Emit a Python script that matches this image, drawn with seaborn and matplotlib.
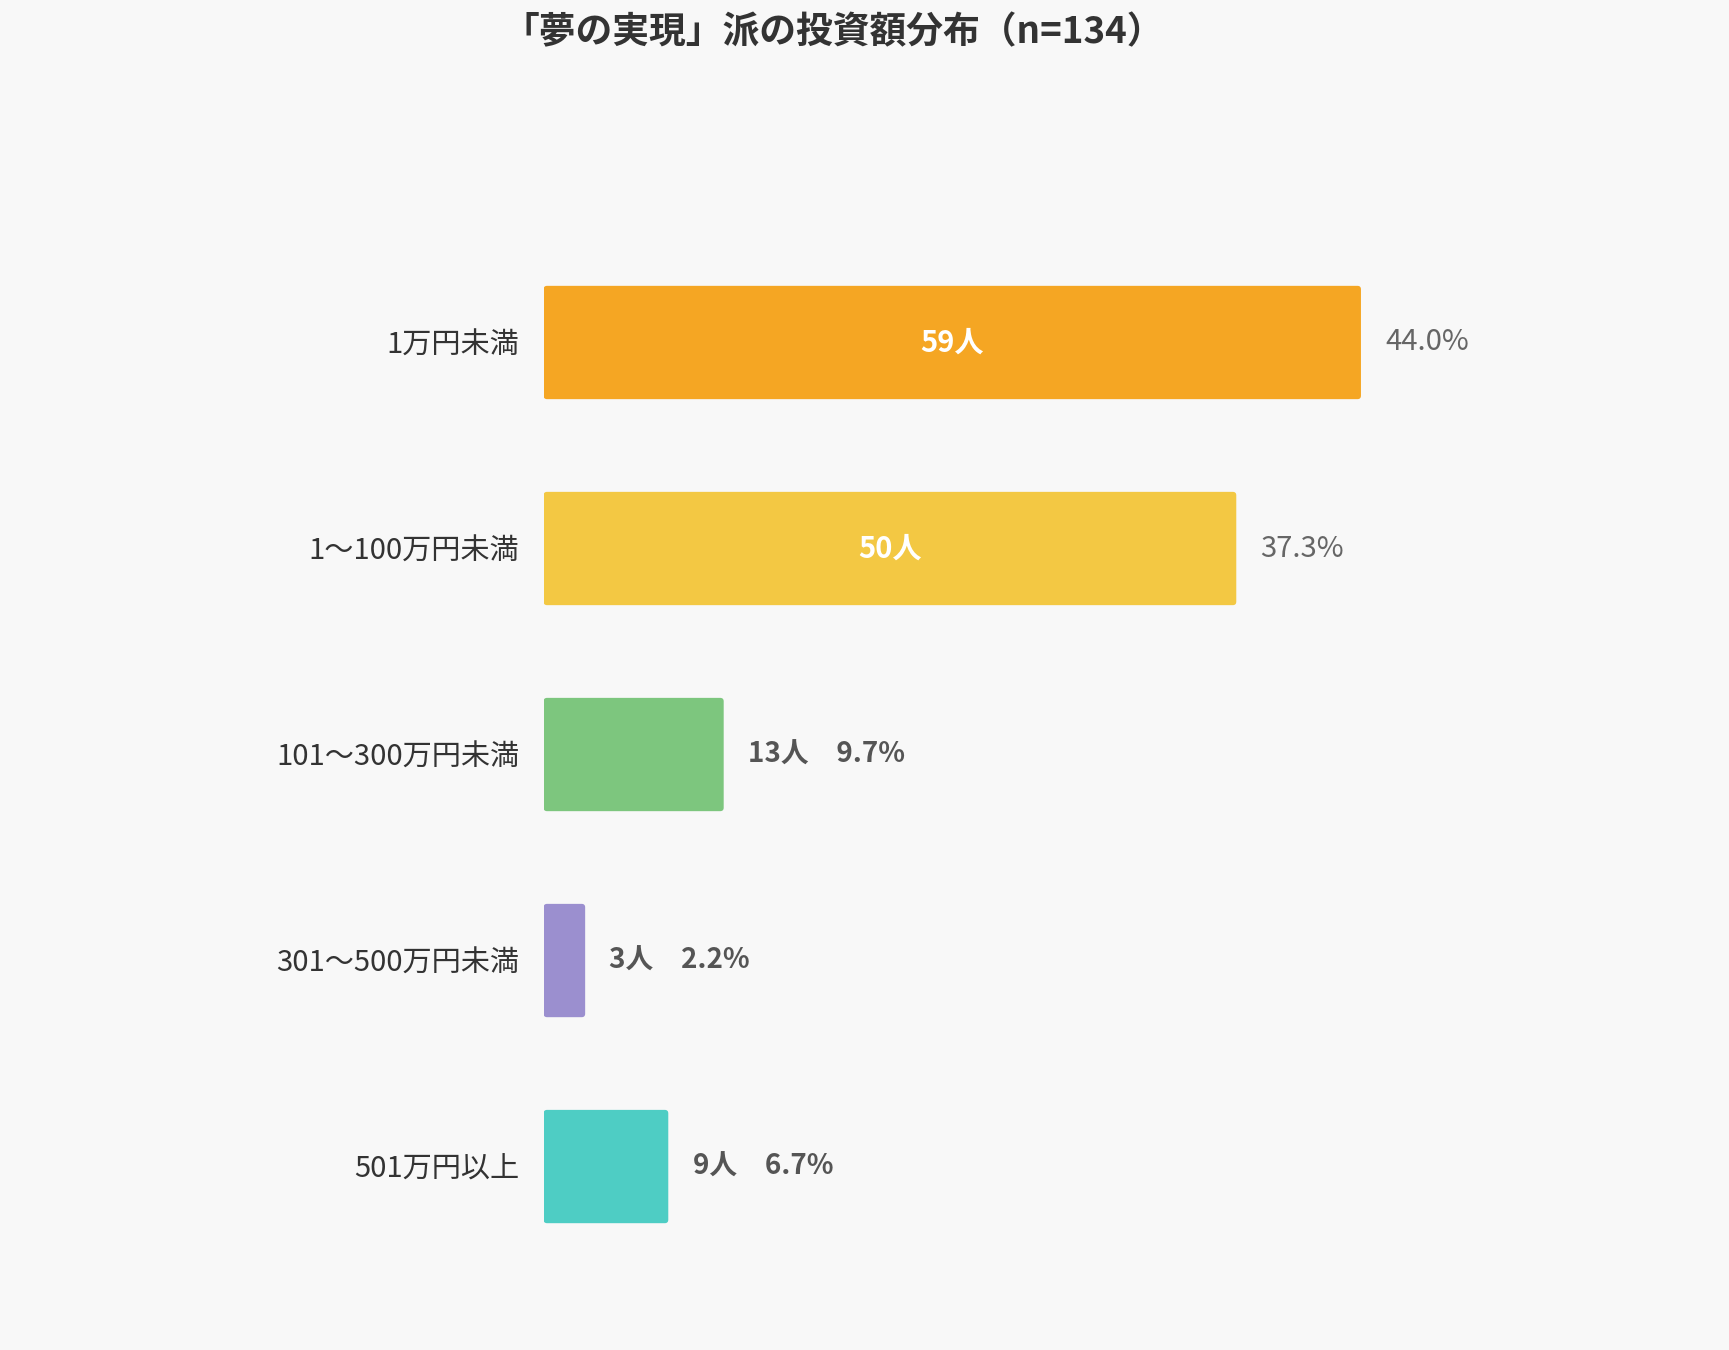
import matplotlib
matplotlib.use("Agg")
import matplotlib.pyplot as plt
from matplotlib.patches import FancyBboxPatch
import seaborn as sns
import pandas as pd

# -------------------------------
# Data
# -------------------------------
categories = ["1万円未満", "1〜100万円未満", "101〜300万円未満", "301〜500万円未満", "501万円以上"]
counts = [59, 50, 13, 3, 9]
percents = [44.0, 37.3, 9.7, 2.2, 6.7]
colors = ["#F5A623", "#F3C843", "#7DC67E", "#9B8FCF", "#4ECDC4"]
title = "「夢の実現」派の投資額分布（n=134）"

df = pd.DataFrame({"category": categories, "count": counts, "pct": percents})

# -------------------------------
# Style
# -------------------------------
sns.set_theme(style="white")
plt.rcParams["font.family"] = ["Noto Sans CJK JP", "DejaVu Sans"]
bg = "#F8F8F8"

fig = plt.figure(figsize=(17.29, 13.5), dpi=100, facecolor=bg)
ax = fig.add_axes([0.3144, 0.0596, 0.641, 0.763])
ax.set_facecolor(bg)

sns.barplot(data=df, x="count", y="category", hue="category", palette=colors,
            orient="h", width=0.55, legend=False, saturation=1, ax=ax)

ax.set_xlim(0, 80)
ax.set_ylim(4.5, -0.5)
ax.set_xlabel("")
ax.set_ylabel("")
ax.set_xticks([])
ax.tick_params(axis="y", length=0, pad=17.5, labelsize=21, labelcolor="#333333")
for s in ax.spines.values():
    s.set_visible(False)

# slightly rounded bar corners
aspect = (1 / 206) / (1 / 13.85)
for p in list(ax.patches):
    x, y = p.get_x(), p.get_y()
    w, h = p.get_width(), p.get_height()
    fb = FancyBboxPatch((x, y), w, h, boxstyle="round,pad=0,rounding_size=0.25",
                        mutation_aspect=aspect, facecolor=p.get_facecolor(),
                        edgecolor="none")
    p.remove()
    ax.add_patch(fb)

# -------------------------------
# Labels
# -------------------------------
for i, (c, p) in enumerate(zip(counts, percents)):
    if c >= 30:
        ax.text(c / 2, i, f"{c}人", ha="center", va="center", color="white",
                fontsize=21, fontweight="bold")
        ax.text(c + 1.75, i, f"{p:.1f}%", ha="left", va="center", color="#666666",
                fontsize=21)
    else:
        ax.text(c + 1.75, i, f"{c}人　{p:.1f}%", ha="left", va="center", color="#555555",
                fontsize=20, fontweight="bold")

fig.text(0.482, 0.9756, title, ha="center", va="center", fontsize=26.5,
         fontweight="bold", color="#333333")

fig.savefig("out.png", dpi=100, facecolor=bg)
